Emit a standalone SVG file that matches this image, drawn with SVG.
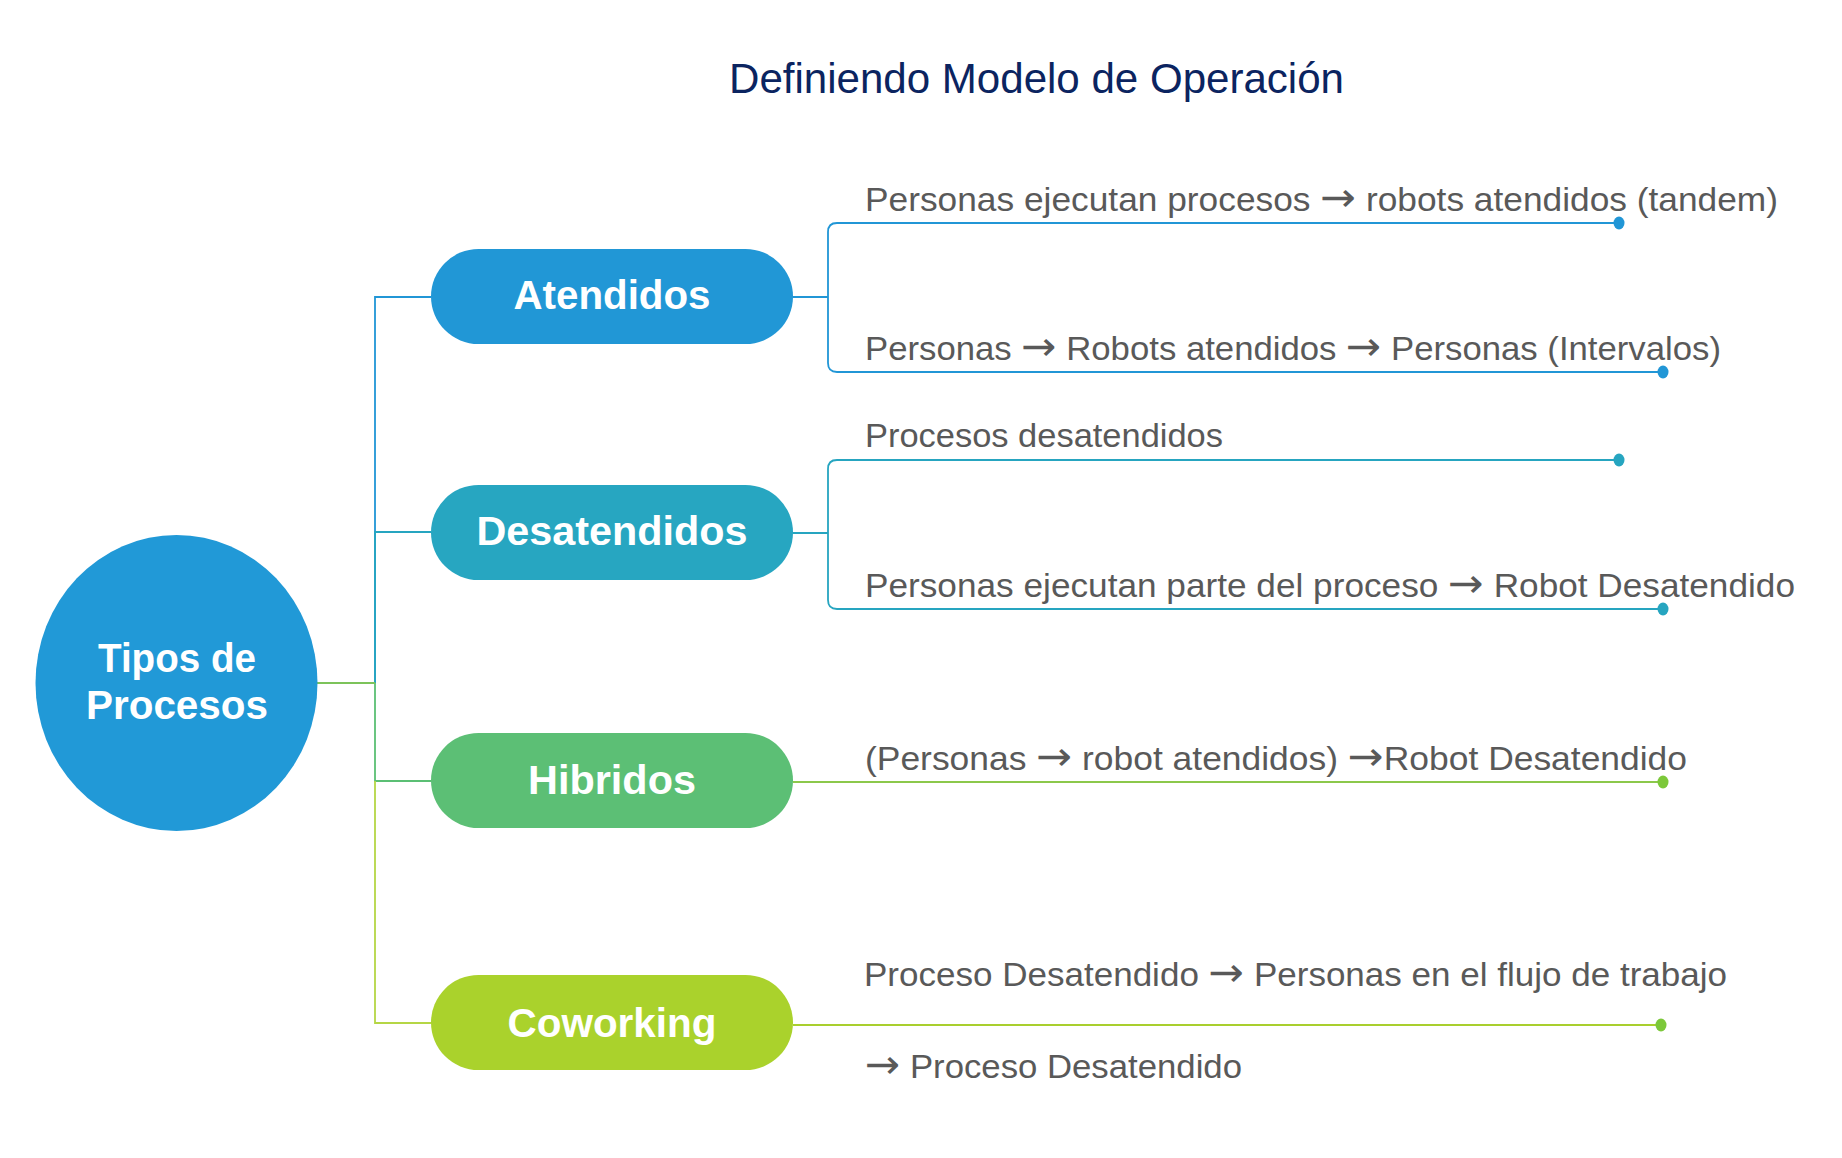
<svg xmlns="http://www.w3.org/2000/svg" width="1842" height="1158" viewBox="0 0 1842 1158">
<style>
.title{font-family:"Liberation Sans",Arial,sans-serif;font-size:42px;fill:#0b2460}
.node{font-family:"Liberation Sans",Arial,sans-serif;font-weight:bold;font-size:40px;fill:#ffffff;text-anchor:middle}
.leaf{font-family:"Liberation Sans",Arial,sans-serif;font-size:33px;fill:#595959}
.arr{font-family:"DejaVu Sans",sans-serif;font-size:40px}
.ln{fill:none;stroke-width:1.8}
</style>
<rect width="1842" height="1158" fill="#ffffff"/>
<text class="title" x="729" y="93" textLength="615" lengthAdjust="spacingAndGlyphs">Definiendo Modelo de Operación</text>
<g id="connectors">
  <path class="ln" stroke="#2196d6" d="M375 683 V297 H431"/>
  <path class="ln" stroke="#26a5c0" d="M375 683 V532 H431"/>
  <path class="ln" stroke="#5bbf74" d="M375 683 V781 H431"/>
  <path class="ln" stroke="#b5d645" d="M375 781 V1023 H431"/>
  <path class="ln" stroke="#7cc35a" d="M317 683 H375"/>
  <path class="ln" stroke="#2196d6" d="M793 297 H828 M1619 223 H837 Q828 223 828 232 V363 Q828 372 837 372 H1663"/>
  <path class="ln" stroke="#26a5c0" d="M793 533 H828 M1619 460 H837 Q828 460 828 469 V600 Q828 609 837 609 H1663"/>
  <path class="ln" stroke="#8cc84b" d="M793 782 H1663"/>
  <path class="ln" stroke="#a9cf2e" d="M793 1025 H1661"/>
  <ellipse cx="1619" cy="223" rx="5.5" ry="6.5" fill="#2196d6"/>
  <ellipse cx="1663" cy="372" rx="5.5" ry="6.5" fill="#2196d6"/>
  <ellipse cx="1619" cy="460" rx="5.5" ry="6.5" fill="#26a5c0"/>
  <ellipse cx="1663" cy="609" rx="5.5" ry="6.5" fill="#26a5c0"/>
  <ellipse cx="1663" cy="782" rx="5.5" ry="6.5" fill="#7cc83a"/>
  <ellipse cx="1661" cy="1025" rx="5.5" ry="6.5" fill="#7cc83a"/>
</g>
<g id="root">
  <ellipse cx="176.5" cy="683" rx="141" ry="148" fill="#2199d7"/>
  <text class="node" x="177" y="672" textLength="158" lengthAdjust="spacingAndGlyphs">Tipos de</text>
  <text class="node" x="177" y="719" textLength="182" lengthAdjust="spacingAndGlyphs">Procesos</text>
</g>
<g id="atendidos">
  <rect x="431" y="249" width="362" height="95" rx="47.5" fill="#2197d6"/>
  <text class="node" x="612" y="309" textLength="197" lengthAdjust="spacingAndGlyphs">Atendidos</text>
</g>
<g id="desatendidos">
  <rect x="431" y="485" width="362" height="95" rx="47.5" fill="#27a6c1"/>
  <text class="node" x="612" y="545" textLength="271" lengthAdjust="spacingAndGlyphs">Desatendidos</text>
</g>
<g id="hibridos">
  <rect x="431" y="733" width="362" height="95" rx="47.5" fill="#5cbf75"/>
  <text class="node" x="612" y="794" textLength="168" lengthAdjust="spacingAndGlyphs">Hibridos</text>
</g>
<g id="coworking">
  <rect x="431" y="975" width="362" height="95" rx="47.5" fill="#aad22c"/>
  <text class="node" x="612" y="1037" textLength="209" lengthAdjust="spacingAndGlyphs">Coworking</text>
</g>
<g id="leaves">
  <text class="leaf" x="865" y="211" textLength="913" lengthAdjust="spacingAndGlyphs">Personas ejecutan procesos <tspan class="arr">→</tspan> robots atendidos (tandem)</text>
  <text class="leaf" x="865" y="360" textLength="856" lengthAdjust="spacingAndGlyphs">Personas <tspan class="arr">→</tspan> Robots atendidos <tspan class="arr">→</tspan> Personas (Intervalos)</text>
  <text class="leaf" x="865" y="447" textLength="358" lengthAdjust="spacingAndGlyphs">Procesos desatendidos</text>
  <text class="leaf" x="865" y="597" textLength="930" lengthAdjust="spacingAndGlyphs">Personas ejecutan parte del proceso <tspan class="arr">→</tspan> Robot Desatendido</text>
  <text class="leaf" x="865" y="770" textLength="822" lengthAdjust="spacingAndGlyphs">(Personas <tspan class="arr">→</tspan> robot atendidos) <tspan class="arr">→</tspan>Robot Desatendido</text>
  <text class="leaf" x="864" y="986" textLength="863" lengthAdjust="spacingAndGlyphs">Proceso Desatendido <tspan class="arr">→</tspan> Personas en el flujo de trabajo</text>
  <text class="leaf" x="865" y="1078" textLength="377" lengthAdjust="spacingAndGlyphs"><tspan class="arr">→</tspan> Proceso Desatendido</text>
</g>
</svg>
